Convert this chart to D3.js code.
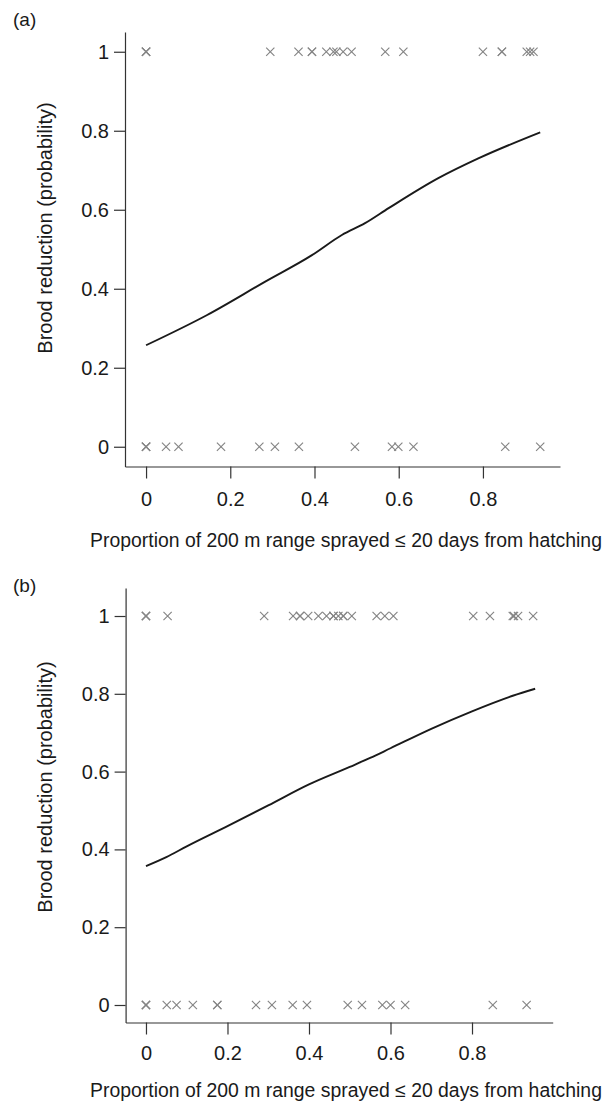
<!DOCTYPE html>
<html lang="en">

<head>
    <meta charset="UTF-8">
    <title>Brood reduction</title>
    <script src="https://d3js.org/d3.v7.min.js"></script>
    <style>
        body { margin: 0; background: #fff; }
        text { font-family: "Liberation Sans", Arial, sans-serif; fill: #1a1a1a; }
    </style>
</head>

<body>
    <script>
        // values
        var xTicks = [0, 0.2, 0.4, 0.6, 0.8];
        var yTicks = [0, 0.2, 0.4, 0.6, 0.8, 1];
        var xTitle = "Proportion of 200 m range sprayed \u2264 20 days from hatching";
        var yTitle = "Brood reduction (probability)";

        // panel (a)
        var a_ones = [0, 0, 0, 0.295, 0.362, 0.394, 0.394, 0.428, 0.445, 0.452, 0.468, 0.488,
            0.568, 0.611, 0.80, 0.845, 0.845, 0.904, 0.912, 0.92];
        var a_zeros = [0, 0, 0, 0.0475, 0.077, 0.178, 0.269, 0.306, 0.363, 0.496,
            0.584, 0.599, 0.635, 0.853, 0.936];
        var a_curveX = [0, 0.144, 0.283, 0.394, 0.465, 0.52, 0.576, 0.694, 0.789, 0.936];
        var a_curveY = [0.257, 0.333, 0.418, 0.485, 0.536, 0.566, 0.604, 0.68, 0.73, 0.796];

        // panel (b)
        var b_ones = [0, 0, 0, 0.053, 0.29, 0.361, 0.378, 0.378, 0.398, 0.423, 0.443, 0.46, 0.46,
            0.472, 0.484, 0.484, 0.505, 0.566, 0.586, 0.607, 0.803, 0.844, 0.9, 0.903, 0.913, 0.95];
        var b_zeros = [0, 0, 0, 0.051, 0.075, 0.115, 0.175, 0.175, 0.27, 0.309, 0.36, 0.395,
            0.495, 0.53, 0.58, 0.6, 0.636, 0.851, 0.934];
        var b_curveX = [0, 0.05, 0.1, 0.2, 0.3, 0.4, 0.5, 0.55, 0.6, 0.7, 0.8, 0.9, 0.955];
        var b_curveY = [0.357, 0.38, 0.408, 0.46, 0.513, 0.567, 0.612, 0.635, 0.66, 0.71, 0.755, 0.795, 0.813];

        var width = 615;
        var height = 1106;

        var svg = d3.select("body")
            .append("svg")
            .attr("width", width)
            .attr("height", height);

        function drawPanel(p) {
            var x = d3.scaleLinear().domain(p.xDomain).range(p.xRange);
            var y = d3.scaleLinear().domain(p.yDomain).range(p.yRange);
            var g = svg.append("g");

            var yAxis = g.append("g")
                .attr("transform", "translate(" + p.xRange[0] + ",0)")
                .call(d3.axisLeft(y).tickValues(yTicks).tickFormat(d3.format("")).tickSize(11).tickSizeOuter(0).tickPadding(5));
            var xAxis = g.append("g")
                .attr("transform", "translate(0," + p.yRange[0] + ")")
                .call(d3.axisBottom(x).tickValues(xTicks).tickFormat(d3.format("")).tickSize(12).tickSizeOuter(0).tickPadding(p.xPad));

            [xAxis, yAxis].forEach(function (ax) {
                ax.selectAll("path, line").attr("stroke", "#333").attr("stroke-width", 1.2);
                ax.selectAll("text").style("font-size", "20px").attr("fill", "#1a1a1a");
            });

            var times = d3.symbol().type(d3.symbolTimes).size(46);
            var pts = p.ones.map(function (v) { return [v, 1]; })
                .concat(p.zeros.map(function (v) { return [v, 0]; }));
            g.selectAll("path.pt")
                .data(pts)
                .enter()
                .append("path")
                .attr("class", "pt")
                .attr("d", times)
                .attr("transform", function (d) { return "translate(" + x(d[0]) + "," + y(d[1]) + ")"; })
                .attr("fill", "none")
                .attr("stroke", "#858585")
                .attr("stroke-width", 1.15);

            var line = d3.line()
                .x(function (d, i) { return x(p.curveX[i]); })
                .y(function (d) { return y(d); })
                .curve(d3.curveMonotoneX);
            g.append("path")
                .attr("d", line(p.curveY))
                .attr("fill", "none")
                .attr("stroke", "#1a1a1a")
                .attr("stroke-width", 1.9);

            g.append("text")
                .attr("x", 13)
                .attr("y", p.labelY)
                .style("font-size", "19px")
                .text(p.label);

            g.append("text")
                .attr("transform", "translate(45," + p.yTitleY + ") rotate(-90)")
                .attr("text-anchor", "middle")
                .attr("dy", "0.35em")
                .style("font-size", "20px")
                .text(yTitle);

            g.append("text")
                .attr("x", 346)
                .attr("y", p.xTitleY)
                .attr("text-anchor", "middle")
                .attr("dy", "0.35em")
                .style("font-size", "19.4px")
                .text(xTitle);
        }

        drawPanel({
            label: "(a)", labelY: 26,
            xDomain: [-0.05, 0.983], xRange: [125, 560],
            yDomain: [-0.05, 1.05], yRange: [466.5, 32],
            xPad: 13, xTitleY: 540, yTitleY: 228,
            ones: a_ones, zeros: a_zeros, curveX: a_curveX, curveY: a_curveY
        });

        drawPanel({
            label: "(b)", labelY: 592,
            xDomain: [-0.05, 0.998], xRange: [125.6, 552.7],
            yDomain: [-0.045, 1.072], yRange: [1022.5, 588],
            xPad: 11, xTitleY: 1090, yTitleY: 787,
            ones: b_ones, zeros: b_zeros, curveX: b_curveX, curveY: b_curveY
        });
    </script>
</body>

</html>
